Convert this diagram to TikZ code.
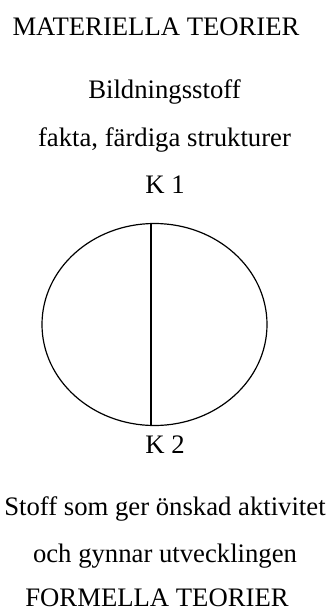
\documentclass[tikz,border=0pt]{standalone}
\usepackage{fontspec}
\setmainfont{Liberation Serif}
\usetikzlibrary{shapes.geometric}
\begin{document}
\begin{tikzpicture}[x=1pt,y=-1pt]
    \tikzstyle{t}=[anchor=base, inner sep=0pt, font=\fontsize{26.7}{30}\selectfont]
    \tikzstyle{ring}=[ellipse, draw, line width=1.2pt, inner sep=0pt, minimum width=225pt, minimum height=202pt]
    \useasboundingbox (0,0) rectangle (329,610);
    % top: material theories
    \node[t] (mat) at (156,36) {MATERIELLA TEORIER};
    \node[t] (bild) at (164.5,98) {Bildningsstoff};
    \node[t] (fakta) at (164.5,146.5) {fakta, färdiga strukturer};
    \node[t] (k1) at (165,193) {K 1};
    % the circle, split in two halves
    \node[ring] (circ) at (154.5,324.5) {};
    \coordinate (top) at (151,223.6);
    \coordinate (bot) at (151,425.4);
    \draw[line width=1.1pt] (top) -- (bot);
    \node[t] (k2) at (165,453) {K 2};
    % bottom: formal theories
    \node[t] (stoff) at (165,515) {Stoff som ger önskad aktivitet};
    \node[t] (och) at (165,562) {och gynnar utvecklingen};
    \node[t] (form) at (157,606.5) {FORMELLA TEORIER};
  \end{tikzpicture}
\end{document}
